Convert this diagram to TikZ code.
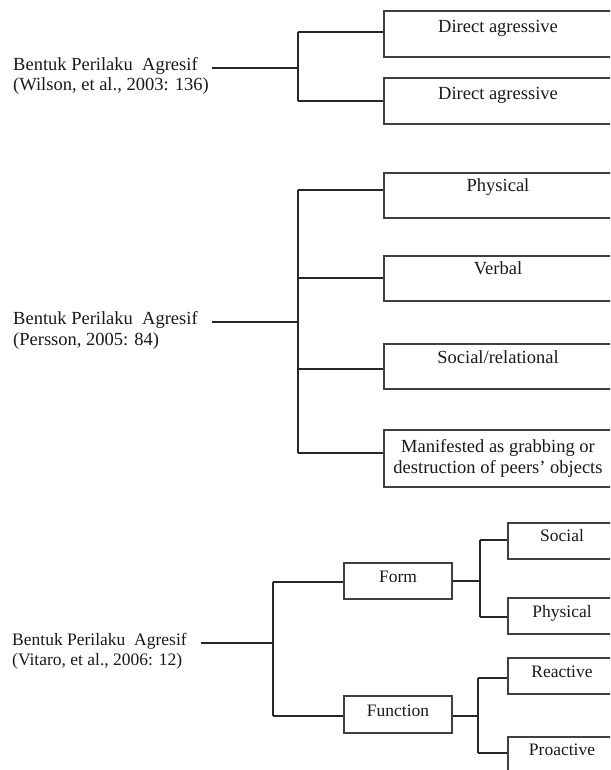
\documentclass[tikz,border=0pt]{standalone}
\usepackage{fontspec}
\setmainfont{Liberation Serif}
\begin{document}
\begin{tikzpicture}[x=1pt,y=-1pt,
  every node/.style={font=\fontsize{18.5}{21}\selectfont, text=black!90},
  small/.style={font=\fontsize{17.5}{20}\selectfont},
  txt/.style={inner sep=0pt, text height=0.7em, text depth=0.2em},
  rootl/.style={inner xsep=14pt, inner ysep=0pt, text height=0.7em, text depth=0.2em, anchor=west},
  cite/.style={inner xsep=14pt, inner ysep=0pt, text height=0.7em, text depth=0.2em, anchor=west},
  wbox/.style={draw=black!75, line width=1.1pt, minimum width=228pt, minimum height=46pt, inner sep=0pt},
  sbox/.style={draw=black!75, line width=1.1pt, minimum width=108pt, minimum height=36pt, inner sep=0pt},
  conn/.style={draw=black!85, line width=1.1pt}
]
\useasboundingbox (0,0) rectangle (610,770);
\clip (0,0) rectangle (610,770);

% ---------- Section 1 ----------
\node[rootl] (r1a) at (-1,68) {Bentuk Perilaku\ \ Agresif};
\node[cite] (r1b) at (-1,88) {(Wilson, et al., 2003: 136)};
\node[wbox] (b11) at (498,34) {};
\node[txt] (t11) at (498,30) {Direct agressive};
\node[wbox] (b12) at (498,101) {};
\node[txt] (t12) at (498,97) {Direct agressive};
\coordinate (j1) at (298,68);
\coordinate (k11) at (298,32);
\coordinate (k12) at (298,101);
\draw[conn] (r1a.east) -- (j1);
\draw[conn] (k11) -- (k12);
\draw[conn] (k11) -- (k11 -| b11.west);
\draw[conn] (k12) -- (k12 -| b12.west);

% ---------- Section 2 ----------
\node[rootl] (r2a) at (-1,322) {Bentuk Perilaku\ \ Agresif};
\node[cite] (r2b) at (-1,343) {(Persson, 2005: 84)};
\node[wbox, minimum height=45pt] (b21) at (498,195.5) {};
\node[txt] (t21) at (498,189) {Physical};
\node[wbox, minimum height=45pt] (b22) at (498,278.5) {};
\node[txt] (t22) at (498,272) {Verbal};
\node[wbox, minimum height=45pt] (b23) at (498,366.5) {};
\node[txt] (t23) at (498,361) {Social/relational};
\node[wbox, minimum height=57pt] (b24) at (498,458.5) {};
\node[txt] (t24a) at (498,450) {Manifested as grabbing or};
\node[txt] (t24b) at (498,471) {destruction of peers' objects};
\coordinate (j2) at (298,322);
\coordinate (k21) at (298,190);
\coordinate (k22) at (298,278);
\coordinate (k23) at (298,369);
\coordinate (k24) at (298,453);
\draw[conn] (r2a.east) -- (j2);
\draw[conn] (k21) -- (k24);
\draw[conn] (k21) -- (k21 -| b21.west);
\draw[conn] (k22) -- (k22 -| b22.west);
\draw[conn] (k23) -- (k23 -| b23.west);
\draw[conn] (k24) -- (k24 -| b24.west);

% ---------- Section 3 ----------
\node[rootl, small] (r3a) at (-2,643) {Bentuk Perilaku\ \ Agresif};
\node[cite, small] (r3b) at (-2,663) {(Vitaro, et al., 2006: 12)};
\node[sbox] (f1) at (398,581) {};
\node[txt, small] (f1t) at (398,580) {Form};
\node[sbox, minimum height=37pt] (f2) at (398,714.5) {};
\node[txt, small] (f2t) at (398,714) {Function};
\node[sbox] (s1) at (562,541) {};
\node[txt, small] (s1t) at (562,539) {Social};
\node[sbox] (s2) at (562,616) {};
\node[txt, small] (s2t) at (562,615) {Physical};
\node[sbox] (s3) at (562,676) {};
\node[txt, small] (s3t) at (562,675) {Reactive};
\node[sbox] (s4) at (562,755) {};
\node[txt, small] (s4t) at (562,753) {Proactive};
\coordinate (j3) at (273,643);
\coordinate (k31) at (273,582);
\coordinate (k32) at (273,716);
\draw[conn] (r3a.east) -- (j3);
\draw[conn] (k31) -- (k32);
\draw[conn] (k31) -- (k31 -| f1.west);
\draw[conn] (k32) -- (k32 -| f2.west);
% Form sub-branches
\coordinate (m1) at (480,581);
\coordinate (m11) at (480,540);
\coordinate (m12) at (480,617);
\draw[conn] (f1.east) -- (m1);
\draw[conn] (m11) -- (m12);
\draw[conn] (m11) -- (m11 -| s1.west);
\draw[conn] (m12) -- (m12 -| s2.west);
% Function sub-branches
\coordinate (m2) at (478,716);
\coordinate (m21) at (478,678);
\coordinate (m22) at (478,753);
\draw[conn] (f2.east |- m2) -- (m2);
\draw[conn] (m21) -- (m22);
\draw[conn] (m21) -- (m21 -| s3.west);
\draw[conn] (m22) -- (m22 -| s4.west);
\end{tikzpicture}
\end{document}
